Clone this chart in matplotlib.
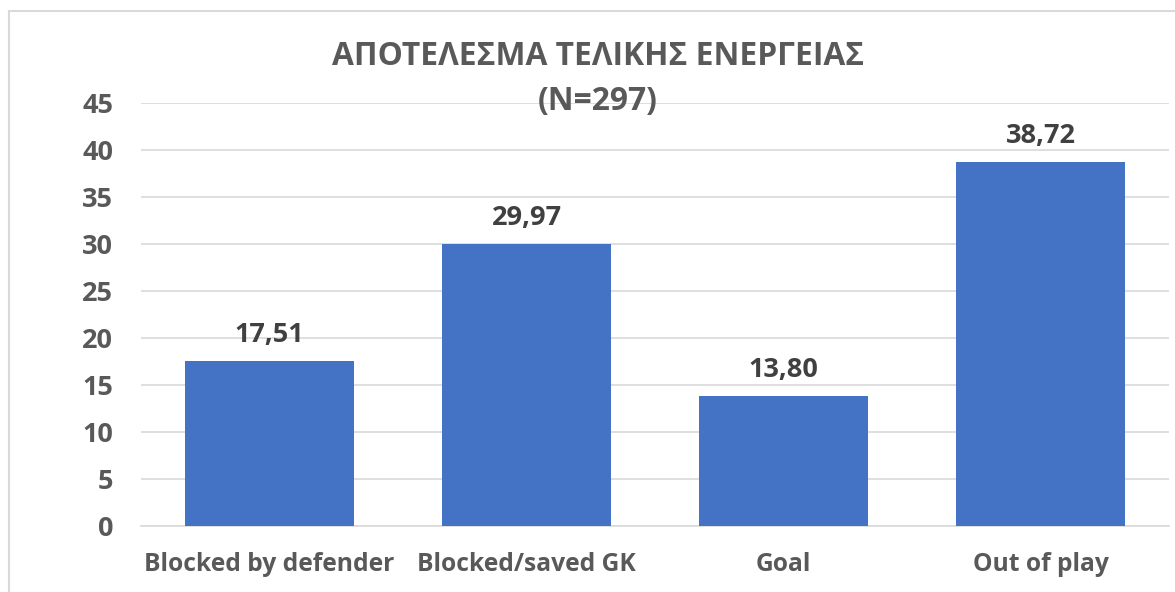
import matplotlib.pyplot as plt
from matplotlib.patches import Rectangle

# δεδομένα
categories = ['Blocked by defender', 'Blocked/saved GK', 'Goal', 'Out of play']
values = [17.51, 29.97, 13.80, 38.72]
yticks = [0, 5, 10, 15, 20, 25, 30, 35, 40, 45]
title = 'ΑΠΟΤΕΛΕΣΜΑ ΤΕΛΙΚΗΣ ΕΝΕΡΓΕΙΑΣ\n(N=297)'

plt.rcParams['font.family'] = ['Open Sans', 'DejaVu Sans']
plt.rcParams['font.weight'] = 'bold'

fig = plt.figure(figsize=(11.75, 5.92), dpi=100)
ax = fig.add_axes([141/1175, 66/592, 1028/1175, 423/592])

# πλαίσιο γραφήματος
fig.patches.append(Rectangle((9/1175, -0.05), 1.2, (592-11)/592 + 0.05,
                             transform=fig.transFigure, fill=False,
                             edgecolor='#d9d9d9', linewidth=1.5))

x = range(len(categories))
bars = ax.bar(x, values, width=0.66, color='#4472C4', zorder=3)
for b, v in zip(bars, values):
    ax.text(b.get_x() + b.get_width()/2, v + 1.4, f'{v:.2f}'.replace('.', ','),
            ha='center', va='bottom', fontsize=19.5, fontweight='bold', color='#404040')

ax.set_xlim(-0.5, len(categories) - 0.5)
ax.set_ylim(0, 45)
ax.set_yticks(yticks)
ax.set_xticks(list(x))
ax.set_xticklabels(categories)
ax.grid(axis='y', color='#d9d9d9', linewidth=1.2, zorder=0)
for s in ['top', 'right', 'left']:
    ax.spines[s].set_visible(False)
ax.spines['bottom'].set_color('#d9d9d9')
ax.spines['bottom'].set_linewidth(1.2)
ax.tick_params(length=0, colors='#595959')
ax.tick_params(axis='y', pad=20, labelsize=19.5)
ax.tick_params(axis='x', pad=19, labelsize=17.7)

fig.text(598/1175, 1 - 79/592, title, ha='center', va='center', fontsize=22.9,
         fontweight='bold', color='#595959', linespacing=1.45)

fig.savefig('out.png', dpi=100)
